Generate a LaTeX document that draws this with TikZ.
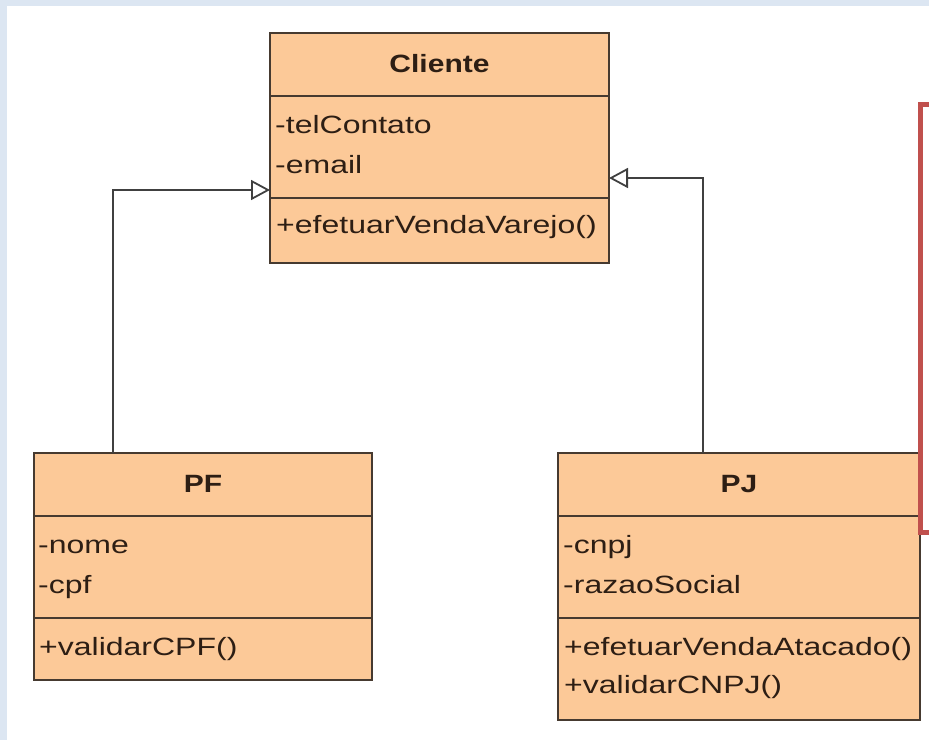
\documentclass[tikz,border=0pt]{standalone}
\usepackage{fontspec}
\setmainfont[FakeStretch=1.28, BoldFeatures={FakeStretch=1.2}]{Liberation Sans}
\usetikzlibrary{arrows.meta}
\definecolor{boxfill}{RGB}{252,201,152}
\definecolor{boxline}{RGB}{70,58,48}
\definecolor{bgblue}{RGB}{220,230,242}
\definecolor{redline}{RGB}{192,80,77}
\definecolor{conn}{RGB}{64,64,64}
\definecolor{txt}{RGB}{45,30,20}
\begin{document}
\begin{tikzpicture}[x=1pt,y=-1pt,
  cls/.style={draw=boxline, fill=boxfill, line width=2.2pt, rectangle, inner sep=0pt, outer sep=0pt, anchor=north west},
  sep/.style={draw=boxline, line width=2pt},
  ttl/.style={anchor=base, inner sep=0pt, text=txt, font=\fontsize{25}{30}\selectfont\bfseries},
  mem/.style={anchor=base west, inner sep=0pt, text=txt, font=\fontsize{25}{30}\selectfont},
  gen/.style={draw=conn, line width=1.8pt, -{Triangle[open, length=19pt, width=20pt, fill=white, line width=1.8pt]}}
]
\useasboundingbox (0,0) rectangle (929,740);
\fill[white] (0,0) rectangle (929,740);
\fill[bgblue] (0,0) rectangle (929,6);
\fill[bgblue] (0,0) rectangle (7,740);

% Cliente
\node[cls, minimum width=339pt, minimum height=230pt] (cliente) at (270,33) {};
\draw[sep] (270,96) -- (609,96);
\draw[sep] (270,198) -- (609,198);
\node[ttl] (clienteT) at (439.5,72) {Cliente};
\node[mem] (clienteA1) at (275,133) {-telContato};
\node[mem] (clienteA2) at (275,173) {-email};
\node[mem] (clienteM1) at (276,233) {+efetuarVendaVarejo()};

% PF
\node[cls, minimum width=338pt, minimum height=227pt] (pf) at (34,453) {};
\draw[sep] (34,516) -- (372,516);
\draw[sep] (34,618) -- (372,618);
\node[ttl] (pfT) at (203,492) {PF};
\node[mem] (pfA1) at (38,553) {-nome};
\node[mem] (pfA2) at (38,593) {-cpf};
\node[mem] (pfM1) at (39,655) {+validarCPF()};

% PJ
\node[cls, minimum width=362pt, minimum height=267pt] (pj) at (558,453) {};
\draw[sep] (558,516) -- (920,516);
\draw[sep] (558,618) -- (920,618);
\node[ttl] (pjT) at (739,492) {PJ};
\node[mem] (pjA1) at (563,553) {-cnpj};
\node[mem] (pjA2) at (563,593) {-razaoSocial};
\node[mem] (pjM1) at (564,655) {+efetuarVendaAtacado()};
\node[mem] (pjM2) at (564,693) {+validarCNPJ()};

% generalizations
\draw[gen] ([xshift=79pt]pf.north west) |- ([yshift=-42pt]cliente.west);
\draw[gen] ([xshift=145pt]pj.north west) |- ([yshift=-30pt]cliente.east);

% red frame (cut off at right edge)
\draw[redline, line width=5pt] (933,104) -- (920.5,104) -- (920.5,532) -- (933,532);
\end{tikzpicture}
\end{document}
